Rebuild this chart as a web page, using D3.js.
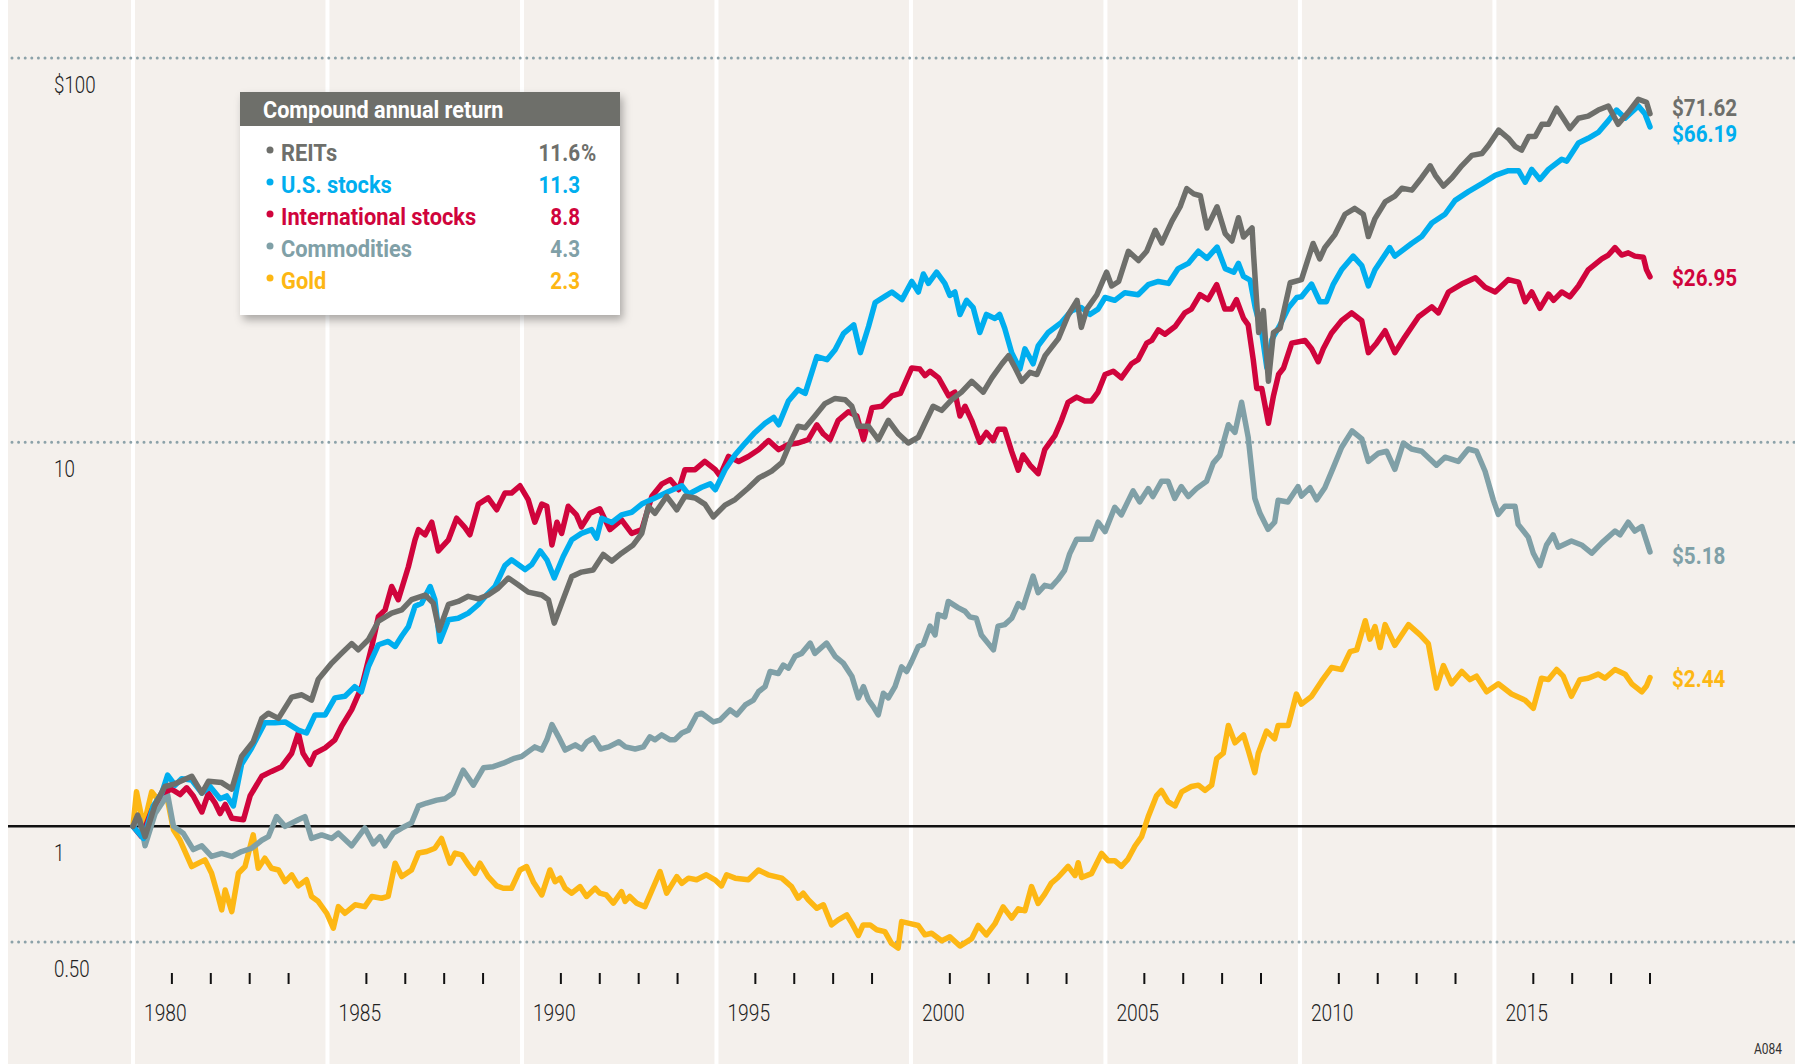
<!DOCTYPE html>
<html>
<head>
<meta charset="utf-8">
<script src="https://cdn.jsdelivr.net/npm/d3@7"></script>
<style>
  html, body { margin: 0; padding: 0; background: #fff; }
  svg { display: block; }
  text { font-family: Roboto, "Liberation Sans", sans-serif; }
</style>
</head>
<body>
<svg id="chart" width="1795" height="1064"></svg>
<script>
// growth of $1, log scale, [year, value]
const reits = [
  [1980.00,1.00],[1980.12,1.07],[1980.31,0.94],[1980.57,1.14],[1980.82,1.27],[1981.08,1.29],[1981.51,1.35],[1981.77,1.22],
  [1981.94,1.31],[1982.28,1.30],[1982.54,1.25],[1982.79,1.52],[1983.09,1.66],[1983.31,1.91],[1983.48,1.97],[1983.74,1.91],
  [1984.08,2.17],[1984.34,2.20],[1984.59,2.13],[1984.76,2.41],[1985.11,2.66],[1985.36,2.82],[1985.62,2.99],[1985.79,2.88],
  [1986.05,3.06],[1986.31,3.42],[1986.65,3.59],[1986.91,3.66],[1987.16,3.89],[1987.51,4.00],[1987.72,3.81],[1987.87,3.24],
  [1988.11,3.78],[1988.36,3.85],[1988.62,3.97],[1988.88,3.91],[1989.13,4.00],[1989.39,4.17],[1989.65,4.43],[1989.91,4.25],
  [1990.16,4.07],[1990.51,4.00],[1990.68,3.89],[1990.83,3.38],[1991.02,3.81],[1991.28,4.47],[1991.53,4.59],[1991.83,4.65],
  [1992.09,5.10],[1992.31,4.90],[1992.56,5.14],[1992.86,5.40],[1993.08,5.79],[1993.25,6.81],[1993.42,6.53],[1993.72,7.23],
  [1993.98,6.67],[1994.19,7.23],[1994.45,7.16],[1994.70,6.90],[1994.92,6.39],[1995.22,6.86],[1995.48,7.09],[1995.82,7.60],
  [1996.08,8.06],[1996.42,8.41],[1996.68,8.84],[1996.93,10.15],[1997.10,11.0],[1997.28,10.9],[1997.53,11.7],[1997.79,12.6],
  [1998.05,13.0],[1998.31,12.9],[1998.48,12.4],[1998.65,11.0],[1998.91,11.0],[1999.16,10.15],[1999.42,11.4],[1999.68,10.5],
  [1999.93,9.95],[2000.19,10.3],[2000.36,11.2],[2000.57,12.4],[2000.79,12.1],[2001.05,12.9],[2001.30,13.5],[2001.56,14.4],
  [2001.86,13.5],[2002.08,14.7],[2002.34,16.0],[2002.51,16.8],[2002.68,15.6],[2002.85,14.4],[2003.06,15.2],[2003.24,15.0],
  [2003.45,16.8],[2003.79,18.6],[2004.05,21.5],[2004.27,23.4],[2004.38,19.9],[2004.52,22.2],[2004.78,24.2],[2005.03,27.7],
  [2005.16,25.5],[2005.34,26.2],[2005.59,31.4],[2005.85,29.7],[2006.06,31.4],[2006.28,35.6],[2006.45,33.0],[2006.71,37.6],
  [2006.92,41.0],[2007.09,45.7],[2007.27,44.3],[2007.44,43.8],[2007.61,36.1],[2007.87,41.0],[2008.08,34.9],[2008.25,33.4],
  [2008.42,38.4],[2008.55,34.2],[2008.77,36.1],[2008.81,30.6],[2008.94,19.3],[2009.06,22.0],[2009.19,14.4],[2009.32,19.3],
  [2009.49,19.8],[2009.75,26.0],[2010.04,26.5],[2010.21,30.0],[2010.34,32.9],[2010.51,30.0],[2010.64,32.1],[2010.90,34.7],
  [2011.16,39.2],[2011.41,40.6],[2011.63,39.2],[2011.76,34.3],[2011.93,38.2],[2012.19,42.2],[2012.44,43.7],[2012.62,45.8],
  [2012.88,45.3],[2013.13,48.8],[2013.35,52.4],[2013.48,49.5],[2013.69,46.4],[2013.91,48.8],[2014.16,52.4],[2014.42,55.8],
  [2014.68,56.4],[2014.85,59.3],[2015.11,64.9],[2015.36,61.8],[2015.53,58.9],[2015.70,57.6],[2015.88,62.5],[2016.05,62.5],
  [2016.22,67.2],[2016.39,67.2],[2016.60,74.0],[2016.77,69.7],[2016.94,65.5],[2017.16,69.7],[2017.41,70.6],[2017.67,73.2],
  [2017.93,75.0],[2018.18,67.2],[2018.44,72.2],[2018.70,78.1],[2018.91,76.7],[2019.00,71.62]
];

const usStocks = [
  [1980.00,1.00],[1980.27,0.93],[1980.52,1.13],[1980.74,1.22],[1980.89,1.36],[1981.08,1.28],[1981.25,1.33],[1981.51,1.32],
  [1981.77,1.22],[1981.98,1.27],[1982.24,1.18],[1982.41,1.20],[1982.58,1.13],[1982.79,1.45],[1983.05,1.60],[1983.39,1.86],
  [1983.65,1.86],[1983.91,1.87],[1984.25,1.78],[1984.46,1.75],[1984.68,1.95],[1984.94,1.95],[1985.19,2.16],[1985.45,2.18],
  [1985.70,2.31],[1985.87,2.24],[1986.05,2.60],[1986.31,2.97],[1986.56,3.03],[1986.74,2.94],[1986.91,3.13],[1987.08,3.31],
  [1987.25,3.74],[1987.42,3.81],[1987.64,4.21],[1987.76,3.89],[1987.89,3.03],[1988.11,3.45],[1988.36,3.48],[1988.62,3.59],
  [1988.88,3.78],[1989.09,4.00],[1989.31,4.21],[1989.56,4.77],[1989.73,4.94],[1990.08,4.66],[1990.25,4.80],[1990.47,5.21],
  [1990.64,4.94],[1990.83,4.43],[1991.06,5.04],[1991.28,5.57],[1991.53,5.79],[1991.79,5.92],[1991.92,5.63],[1992.05,6.34],
  [1992.31,6.18],[1992.56,6.47],[1992.82,6.57],[1993.08,6.90],[1993.42,7.16],[1993.77,7.44],[1994.11,7.70],[1994.28,7.32],
  [1994.62,7.63],[1994.84,7.79],[1994.97,7.52],[1995.22,8.48],[1995.48,9.27],[1995.74,9.95],[1995.99,10.6],[1996.25,11.2],
  [1996.47,11.6],[1996.60,11.1],[1996.85,12.8],[1997.10,13.7],[1997.28,13.4],[1997.58,16.7],[1997.84,16.4],[1998.05,17.4],
  [1998.27,19.2],[1998.53,20.2],[1998.70,17.1],[1998.91,20.0],[1999.08,23.1],[1999.34,24.0],[1999.51,24.6],[1999.77,23.5],
  [2000.02,26.2],[2000.19,24.6],[2000.32,27.4],[2000.45,25.9],[2000.66,27.7],[2000.87,25.9],[2001.00,24.1],[2001.13,24.6],
  [2001.26,21.5],[2001.43,23.4],[2001.60,22.4],[2001.77,19.3],[2001.94,21.5],[2002.16,21.0],[2002.28,21.5],[2002.41,19.8],
  [2002.59,17.1],[2002.80,15.5],[2002.93,17.5],[2003.14,16.0],[2003.27,17.8],[2003.53,19.3],[2003.87,20.5],[2004.13,22.0],
  [2004.38,22.4],[2004.60,21.5],[2004.81,22.2],[2004.99,23.8],[2005.24,23.4],[2005.50,24.5],[2005.84,24.2],[2006.10,25.7],
  [2006.36,26.2],[2006.62,25.9],[2006.87,28.3],[2007.13,29.2],[2007.39,31.4],[2007.61,30.1],[2007.87,32.2],[2008.08,28.3],
  [2008.30,27.7],[2008.42,29.2],[2008.55,27.0],[2008.72,26.4],[2008.85,22.4],[2009.02,19.3],[2009.15,15.6],[2009.28,18.5],
  [2009.49,20.2],[2009.71,22.4],[2009.92,23.8],[2010.04,23.9],[2010.30,25.8],[2010.51,23.2],[2010.68,23.2],[2010.86,25.8],
  [2011.07,28.1],[2011.37,30.5],[2011.59,28.8],[2011.76,25.5],[2011.93,28.1],[2012.31,32.1],[2012.44,30.5],[2012.87,32.9],
  [2013.13,34.3],[2013.39,37.2],[2013.73,39.2],[2013.99,42.6],[2014.33,44.9],[2014.68,47.1],[2015.02,49.5],[2015.36,50.9],
  [2015.62,50.9],[2015.79,47.5],[2015.96,51.3],[2016.17,48.3],[2016.39,51.3],[2016.73,54.5],[2016.86,53.9],[2017.16,60.1],
  [2017.41,61.8],[2017.67,64.0],[2017.93,68.7],[2018.14,73.2],[2018.36,69.7],[2018.70,75.0],[2018.87,71.6],[2019.00,66.19]
];

const intlStocks = [
  [1980.00,1.00],[1980.22,0.94],[1980.48,1.10],[1980.74,1.22],[1980.99,1.25],[1981.21,1.21],[1981.38,1.26],[1981.55,1.20],
  [1981.77,1.09],[1981.94,1.22],[1982.11,1.15],[1982.24,1.08],[1982.37,1.14],[1982.54,1.05],[1982.84,1.04],[1983.01,1.20],
  [1983.31,1.35],[1983.56,1.39],[1983.82,1.43],[1984.08,1.55],[1984.25,1.75],[1984.37,1.55],[1984.55,1.45],[1984.68,1.55],
  [1984.94,1.60],[1985.19,1.68],[1985.36,1.82],[1985.62,2.01],[1985.88,2.31],[1986.14,2.94],[1986.31,3.52],[1986.48,3.66],
  [1986.65,4.21],[1986.82,3.89],[1987.08,4.74],[1987.25,5.57],[1987.34,5.92],[1987.51,5.74],[1987.68,6.19],[1987.85,5.21],
  [1988.11,5.57],[1988.32,6.34],[1988.53,6.00],[1988.66,5.74],[1988.88,6.90],[1989.13,7.16],[1989.35,6.67],[1989.56,7.37],
  [1989.73,7.37],[1989.95,7.70],[1990.16,7.09],[1990.33,6.19],[1990.51,6.90],[1990.64,6.81],[1990.77,5.40],[1990.90,6.19],
  [1991.02,5.79],[1991.19,6.81],[1991.40,6.47],[1991.53,6.02],[1991.75,6.53],[1992.00,6.71],[1992.26,5.92],[1992.56,6.28],
  [1992.82,5.79],[1993.08,5.92],[1993.34,7.23],[1993.60,7.79],[1993.81,7.99],[1994.03,7.52],[1994.19,8.48],[1994.45,8.48],
  [1994.70,8.91],[1994.97,8.48],[1995.09,8.17],[1995.31,9.18],[1995.57,8.91],[1995.82,9.18],[1996.08,9.56],[1996.34,10.1],
  [1996.60,9.56],[1996.85,9.86],[1997.10,9.95],[1997.36,10.15],[1997.58,11.1],[1997.75,10.5],[1997.92,10.15],[1998.13,11.4],
  [1998.39,12.0],[1998.61,11.7],[1998.78,10.15],[1999.00,12.3],[1999.25,12.4],[1999.51,13.2],[1999.73,13.4],[2000.02,15.6],
  [2000.23,15.5],[2000.36,14.9],[2000.49,15.3],[2000.71,14.7],[2000.97,13.2],[2001.13,13.5],[2001.26,11.7],[2001.39,12.4],
  [2001.56,11.4],[2001.77,10.0],[2001.94,10.6],[2002.11,10.1],[2002.24,10.8],[2002.41,10.8],[2002.59,9.45],[2002.76,8.45],
  [2002.88,9.26],[2003.06,8.72],[2003.27,8.28],[2003.44,9.56],[2003.70,10.4],[2003.87,11.4],[2004.04,12.7],[2004.26,13.1],
  [2004.47,12.8],[2004.64,12.8],[2004.81,13.5],[2004.99,15.0],[2005.20,15.3],[2005.41,14.7],[2005.67,16.0],[2005.84,16.4],
  [2006.06,18.1],[2006.19,18.4],[2006.36,19.6],[2006.53,19.1],[2006.79,20.0],[2007.04,21.7],[2007.21,22.2],[2007.43,24.2],
  [2007.64,23.5],[2007.86,25.7],[2008.07,22.2],[2008.24,22.2],[2008.37,23.5],[2008.55,21.0],[2008.67,20.2],[2008.80,16.4],
  [2008.89,13.8],[2009.02,13.8],[2009.19,11.2],[2009.32,13.2],[2009.45,15.0],[2009.58,15.6],[2009.79,18.1],[2010.13,18.4],
  [2010.30,17.5],[2010.47,16.2],[2010.60,17.5],[2010.81,19.2],[2011.07,20.7],[2011.33,21.7],[2011.59,20.7],[2011.76,17.1],
  [2011.97,18.1],[2012.19,19.5],[2012.44,17.1],[2012.70,18.8],[2013.05,21.2],[2013.39,22.5],[2013.56,21.7],[2013.82,24.6],
  [2014.16,25.8],[2014.51,26.8],[2014.76,25.3],[2015.02,24.6],[2015.36,26.5],[2015.62,26.1],[2015.79,23.2],[2015.96,24.6],
  [2016.17,22.3],[2016.39,24.3],[2016.52,23.4],[2016.73,24.6],[2016.94,23.9],[2017.16,25.5],[2017.41,28.1],[2017.76,30.0],
  [2017.93,30.7],[2018.10,32.1],[2018.27,30.7],[2018.44,31.1],[2018.61,30.5],[2018.83,30.3],[2018.91,28.1],[2019.00,26.95]
];

const commodities = [
  [1980.00,1.00],[1980.18,1.04],[1980.31,0.89],[1980.57,1.08],[1980.89,1.21],[1981.04,1.00],[1981.29,0.96],[1981.55,0.87],
  [1981.77,0.89],[1982.02,0.835],[1982.28,0.85],[1982.54,0.835],[1982.79,0.86],[1983.05,0.877],[1983.31,0.92],[1983.48,0.94],
  [1983.69,1.06],[1983.91,1.00],[1984.25,1.04],[1984.42,1.06],[1984.59,0.93],[1984.85,0.95],[1985.11,0.93],[1985.28,0.96],
  [1985.62,0.89],[1985.96,0.99],[1986.18,0.90],[1986.35,0.94],[1986.48,0.89],[1986.69,0.96],[1986.91,0.99],[1987.16,1.02],
  [1987.34,1.13],[1987.55,1.15],[1987.81,1.17],[1988.02,1.18],[1988.23,1.22],[1988.49,1.40],[1988.75,1.28],[1989.01,1.42],
  [1989.26,1.43],[1989.52,1.46],[1989.78,1.50],[1989.99,1.52],[1990.33,1.61],[1990.51,1.58],[1990.64,1.68],[1990.77,1.84],
  [1990.94,1.71],[1991.11,1.58],[1991.37,1.63],[1991.54,1.59],[1991.67,1.66],[1991.84,1.70],[1992.02,1.59],[1992.23,1.61],
  [1992.49,1.66],[1992.66,1.61],[1992.91,1.59],[1993.12,1.61],[1993.29,1.71],[1993.42,1.68],[1993.59,1.73],[1993.81,1.68],
  [1993.93,1.68],[1994.11,1.75],[1994.28,1.78],[1994.49,1.95],[1994.62,1.97],[1994.92,1.87],[1995.09,1.89],[1995.35,2.01],
  [1995.52,1.95],[1995.74,2.07],[1995.95,2.13],[1996.08,2.24],[1996.25,2.31],[1996.38,2.53],[1996.59,2.50],[1996.72,2.63],
  [1996.85,2.58],[1997.02,2.77],[1997.19,2.82],[1997.41,3.00],[1997.53,2.82],[1997.83,3.00],[1998.05,2.77],[1998.26,2.66],
  [1998.48,2.46],[1998.65,2.16],[1998.78,2.31],[1998.91,2.13],[1999.03,2.05],[1999.16,1.95],[1999.29,2.22],[1999.42,2.16],
  [1999.59,2.31],[1999.76,2.60],[1999.89,2.53],[2000.02,2.69],[2000.19,2.94],[2000.32,2.98],[2000.49,3.32],[2000.62,3.15],
  [2000.70,3.56],[2000.87,3.51],[2000.96,3.85],[2001.21,3.71],[2001.39,3.63],[2001.51,3.51],[2001.68,3.48],[2001.81,3.15],
  [2002.12,2.88],[2002.24,3.32],[2002.41,3.35],[2002.59,3.48],[2002.76,3.80],[2002.88,3.71],[2003.14,4.48],[2003.27,4.06],
  [2003.44,4.24],[2003.61,4.20],[2003.78,4.39],[2003.95,4.64],[2004.08,5.12],[2004.26,5.59],[2004.47,5.59],[2004.64,5.59],
  [2004.81,6.19],[2004.99,5.85],[2005.24,6.77],[2005.41,6.47],[2005.71,7.47],[2005.88,6.99],[2006.10,7.57],[2006.22,7.22],
  [2006.44,7.91],[2006.61,7.91],[2006.78,7.14],[2006.95,7.66],[2007.13,7.22],[2007.34,7.57],[2007.60,7.91],[2007.77,8.82],
  [2007.94,9.24],[2008.16,11.1],[2008.33,10.6],[2008.50,12.7],[2008.67,10.3],[2008.84,7.14],[2008.97,6.54],[2009.18,5.93],
  [2009.35,6.19],[2009.44,7.06],[2009.69,6.99],[2009.95,7.66],[2010.04,7.24],[2010.26,7.61],[2010.43,7.08],[2010.64,7.61],
  [2010.86,8.60],[2011.07,9.69],[2011.34,10.7],[2011.59,10.2],[2011.76,8.91],[2012.02,9.36],[2012.23,9.47],[2012.44,8.50],
  [2012.66,9.95],[2012.87,9.60],[2013.13,9.47],[2013.51,8.71],[2013.73,9.14],[2014.07,8.91],[2014.33,9.60],[2014.54,9.47],
  [2014.76,8.40],[2014.97,7.08],[2015.10,6.49],[2015.27,6.81],[2015.53,6.81],[2015.61,6.11],[2015.87,5.66],[2016.00,5.14],
  [2016.17,4.77],[2016.34,5.40],[2016.51,5.74],[2016.64,5.33],[2016.98,5.53],[2017.24,5.40],[2017.50,5.14],[2017.76,5.47],
  [2018.10,5.87],[2018.23,5.74],[2018.44,6.19],[2018.61,5.87],[2018.79,6.03],[2019.00,5.18]
];

const gold = [
  [1980.00,1.00],[1980.09,1.23],[1980.27,1.00],[1980.48,1.23],[1980.65,1.17],[1980.82,1.27],[1981.04,0.98],[1981.21,0.92],
  [1981.51,0.786],[1981.85,0.818],[1982.02,0.755],[1982.19,0.657],[1982.28,0.606],[1982.37,0.683],[1982.54,0.600],[1982.71,0.755],
  [1982.88,0.786],[1983.09,0.95],[1983.22,0.778],[1983.39,0.826],[1983.56,0.778],[1983.74,0.770],[1983.91,0.718],[1984.08,0.748],
  [1984.25,0.700],[1984.46,0.726],[1984.59,0.657],[1984.76,0.638],[1984.98,0.594],[1985.15,0.543],[1985.28,0.618],[1985.45,0.594],
  [1985.71,0.625],[1985.96,0.618],[1986.14,0.657],[1986.39,0.650],[1986.56,0.657],[1986.74,0.802],[1986.91,0.740],[1987.16,0.770],
  [1987.34,0.852],[1987.55,0.860],[1987.76,0.877],[1987.93,0.930],[1988.15,0.802],[1988.28,0.852],[1988.45,0.843],[1988.62,0.794],
  [1988.79,0.755],[1988.92,0.802],[1989.13,0.740],[1989.35,0.700],[1989.52,0.690],[1989.73,0.690],[1989.95,0.770],[1990.12,0.786],
  [1990.30,0.714],[1990.51,0.663],[1990.72,0.770],[1990.85,0.718],[1990.98,0.733],[1991.11,0.690],[1991.28,0.670],[1991.49,0.697],
  [1991.66,0.657],[1991.88,0.690],[1992.00,0.670],[1992.17,0.663],[1992.35,0.631],[1992.56,0.676],[1992.65,0.638],[1992.77,0.657],
  [1992.95,0.631],[1993.16,0.618],[1993.42,0.711],[1993.55,0.763],[1993.72,0.670],[1993.98,0.740],[1994.11,0.711],[1994.28,0.733],
  [1994.49,0.726],[1994.74,0.748],[1994.96,0.726],[1995.13,0.700],[1995.26,0.748],[1995.48,0.733],[1995.82,0.726],[1996.08,0.770],
  [1996.33,0.748],[1996.68,0.733],[1996.93,0.697],[1997.10,0.650],[1997.23,0.670],[1997.36,0.644],[1997.58,0.612],[1997.75,0.625],
  [1997.96,0.554],[1998.13,0.571],[1998.35,0.588],[1998.48,0.560],[1998.65,0.520],[1998.77,0.554],[1998.95,0.554],[1999.12,0.538],
  [1999.33,0.532],[1999.50,0.496],[1999.67,0.482],[1999.76,0.565],[1999.93,0.560],[2000.19,0.552],[2000.36,0.522],[2000.53,0.527],
  [2000.79,0.504],[2001.00,0.516],[2001.26,0.488],[2001.56,0.510],[2001.73,0.552],[2001.94,0.522],[2002.16,0.558],[2002.37,0.617],
  [2002.59,0.577],[2002.76,0.610],[2002.93,0.603],[2003.10,0.697],[2003.27,0.630],[2003.44,0.666],[2003.61,0.712],[2003.78,0.736],
  [2004.04,0.787],[2004.22,0.745],[2004.30,0.804],[2004.39,0.736],[2004.64,0.753],[2004.90,0.850],[2005.07,0.814],[2005.24,0.814],
  [2005.41,0.787],[2005.58,0.822],[2005.76,0.889],[2005.93,0.940],[2006.10,1.06],[2006.31,1.20],[2006.44,1.24],[2006.61,1.16],
  [2006.79,1.13],[2006.96,1.23],[2007.21,1.27],[2007.39,1.28],[2007.56,1.24],[2007.73,1.28],[2007.86,1.50],[2008.03,1.55],
  [2008.16,1.83],[2008.33,1.65],[2008.55,1.73],[2008.67,1.58],[2008.84,1.38],[2008.93,1.55],[2009.14,1.77],[2009.35,1.69],
  [2009.44,1.83],[2009.70,1.83],[2009.91,2.21],[2010.04,2.08],[2010.30,2.18],[2010.56,2.39],[2010.81,2.59],[2011.07,2.56],
  [2011.29,2.85],[2011.46,2.88],[2011.68,3.43],[2011.80,3.07],[2011.93,3.31],[2012.06,2.92],[2012.19,3.35],[2012.44,2.96],
  [2012.79,3.35],[2013.09,3.15],[2013.30,2.99],[2013.51,2.29],[2013.69,2.62],[2013.90,2.35],[2014.16,2.53],[2014.37,2.41],
  [2014.54,2.46],[2014.80,2.24],[2015.10,2.35],[2015.44,2.21],[2015.79,2.13],[2016.00,2.03],[2016.21,2.43],[2016.39,2.41],
  [2016.60,2.56],[2016.77,2.46],[2016.98,2.18],[2017.20,2.41],[2017.41,2.43],[2017.67,2.49],[2017.84,2.43],[2018.10,2.56],
  [2018.36,2.49],[2018.53,2.35],[2018.79,2.24],[2018.91,2.32],[2019.00,2.44]
];

const names = ["REITs", "U.S. stocks", "International stocks", "Commodities", "Gold"];
const annualReturns = ["11.6", "11.3", "8.8", "4.3", "2.3"];
const yTicks = [100, 10, 1, 0.5];
const yTickLabels = ["$100", "10", "1", "0.50"];
const yearLabels = [1980, 1985, 1990, 1995, 2000, 2005, 2010, 2015];

const colors = ["#6e6f6b", "#00aeef", "#d0043c", "#80a0a7", "#fdb714"];
const seriesData = [reits, usStocks, intlStocks, commodities, gold];

const width = 1795, height = 1064;
const svg = d3.select("#chart");

const x = d3.scaleLinear().domain([1980, 2019]).range([133, 1650]);
const y = d3.scaleLog().domain([0.5, 100]).range([942, 58]);

// condensed look: squeeze text horizontally around its anchor point
function place(sel, fx, fy, squeeze) {
  return sel.attr("transform", (d, i) => `translate(${fx(d, i)},${fy(d, i)}) scale(${squeeze},1)`);
}

svg.append("rect").attr("x", 8).attr("y", 0).attr("width", width - 8).attr("height", height).attr("fill", "#f4f0ec");

// white year bands
svg.append("g").selectAll("line")
  .data(yearLabels)
  .join("line")
    .attr("x1", d => x(d)).attr("x2", d => x(d))
    .attr("y1", 0).attr("y2", height)
    .attr("stroke", "#fff").attr("stroke-width", 4);

// dotted gridlines
svg.append("g").selectAll("line")
  .data(yTicks.filter(d => d !== 1))
  .join("line")
    .attr("x1", 12).attr("x2", width)
    .attr("y1", d => y(d)).attr("y2", d => y(d))
    .attr("stroke", "#8ca2a9").attr("stroke-width", 3)
    .attr("stroke-linecap", "round").attr("stroke-dasharray", "0,6.6");

svg.append("line")
  .attr("x1", 8).attr("x2", width)
  .attr("y1", y(1)).attr("y2", y(1))
  .attr("stroke", "#111").attr("stroke-width", 2.5);

// y labels
place(svg.append("g").selectAll("text")
  .data(yTicks)
  .join("text")
    .attr("font-size", 24).attr("font-weight", 300).attr("fill", "#222")
    .text((d, i) => yTickLabels[i]), () => 54, d => y(d) + 35, 0.78);

// x ticks and labels
const minorYears = d3.range(1981, 2020).filter(d => d % 5 !== 0);
svg.append("g").selectAll("line")
  .data(minorYears)
  .join("line")
    .attr("x1", d => x(d)).attr("x2", d => x(d))
    .attr("y1", 973).attr("y2", 984)
    .attr("stroke", "#111").attr("stroke-width", 2);

place(svg.append("g").selectAll("text")
  .data(yearLabels)
  .join("text")
    .attr("font-size", 24).attr("font-weight", 300).attr("fill", "#222")
    .text(d => d), d => x(d) + 11, () => 1021, 0.8);

// series, gold drawn first so REITs sits on top
const line = d3.line().x(d => x(d[0])).y(d => y(d[1]));
svg.append("g").selectAll("path")
  .data(d3.range(seriesData.length).reverse())
  .join("path")
    .attr("d", i => line(seriesData[i]))
    .attr("fill", "none")
    .attr("stroke", i => colors[i])
    .attr("stroke-width", 5.5)
    .attr("stroke-linejoin", "round")
    .attr("stroke-linecap", "round");

// end labels
const nudge = [-7, 6, 0, 3, 0];
place(svg.append("g").selectAll("text")
  .data(seriesData)
  .join("text")
    .attr("font-size", 24).attr("font-weight", "bold")
    .attr("fill", (d, i) => colors[i])
    .text(d => "$" + d3.format(".2f")(d[d.length - 1][1])),
  () => 1672, (d, i) => y(d[d.length - 1][1]) + 9 + nudge[i], 0.86);

// legend box
const defs = svg.append("defs");
const shadow = defs.append("filter").attr("id", "shadow")
  .attr("x", "-10%").attr("y", "-10%").attr("width", "130%").attr("height", "130%");
shadow.append("feDropShadow")
  .attr("dx", 3).attr("dy", 5).attr("stdDeviation", 4)
  .attr("flood-color", "#000").attr("flood-opacity", 0.3);

const legend = svg.append("g").attr("transform", "translate(240,92)");
legend.append("rect")
  .attr("width", 380).attr("height", 223)
  .attr("fill", "#fff").attr("filter", "url(#shadow)");
legend.append("rect")
  .attr("width", 380).attr("height", 34)
  .attr("fill", "#6e6f6a");
place(legend.append("text")
  .attr("font-size", 24).attr("font-weight", "bold").attr("fill", "#fff")
  .text("Compound annual return"), () => 23, () => 26, 0.9);

const rows = legend.selectAll("g.row")
  .data(names)
  .join("g")
    .attr("class", "row")
    .attr("transform", (d, i) => `translate(0,${69 + i * 32})`);
rows.append("circle")
  .attr("cx", 30).attr("cy", -11).attr("r", 3.5)
  .attr("fill", (d, i) => colors[i]);
place(rows.append("text")
  .attr("font-size", 24).attr("font-weight", "bold")
  .attr("fill", (d, i) => colors[i])
  .text(d => d), () => 41, () => 0, 0.91);
place(rows.append("text")
  .attr("text-anchor", "end")
  .attr("font-size", 24).attr("font-weight", "bold")
  .attr("fill", (d, i) => colors[i])
  .text((d, i) => annualReturns[i]), () => 340, () => 0, 0.86);
place(rows.filter((d, i) => i === 0).append("text")
  .attr("font-size", 24).attr("font-weight", "bold")
  .attr("fill", colors[0])
  .text("%"), () => 341, () => 0, 0.86);

place(svg.append("text")
  .attr("text-anchor", "end")
  .attr("font-size", 15).attr("fill", "#333")
  .text("A084"), () => 1782, () => 1054, 0.8);
</script>
</body>
</html>
